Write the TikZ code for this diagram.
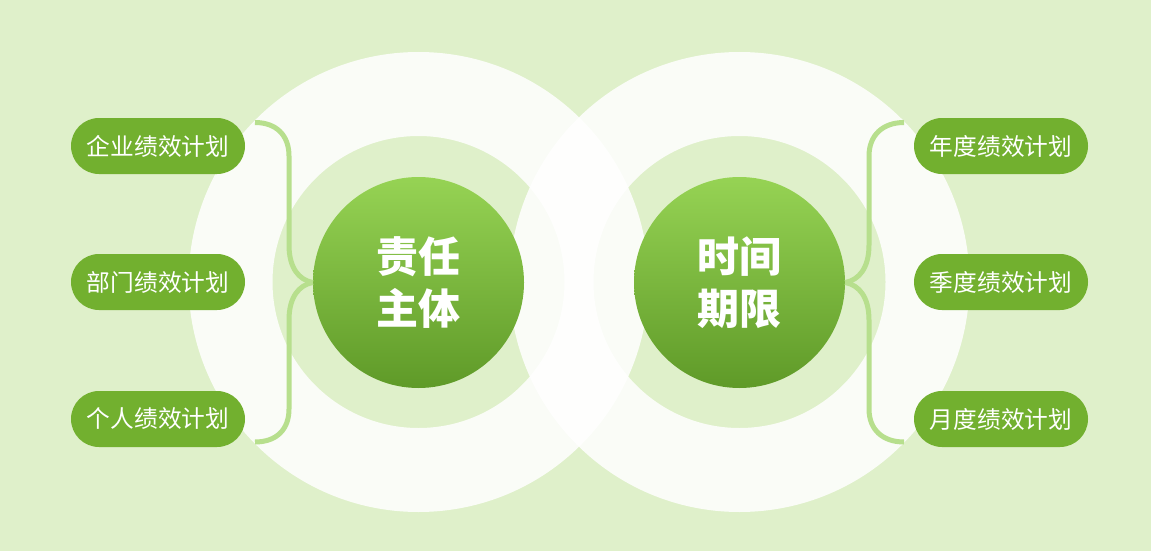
\documentclass[tikz,border=0pt]{standalone}
\usepackage{fontspec}
\newfontfamily\cjk{Noto Sans CJK SC}
\definecolor{bgc}{HTML}{DFF0CA}
\definecolor{pillc}{HTML}{72B02F}
\definecolor{brkc}{HTML}{B7DF8D}
\definecolor{gtop}{HTML}{96D354}
\definecolor{gbot}{HTML}{5F9A28}
\tikzset{
  pillbox/.style={rectangle, rounded corners=28pt, fill=pillc, minimum width=174pt,
    minimum height=56pt, inner sep=0pt, text=white, font=\cjk\fontsize{23.7}{25}\selectfont},
  hub/.style={circle, minimum size=211pt, inner sep=0pt, top color=gtop, bottom color=gbot,
    align=center, text=white, font=\cjk\bfseries\fontsize{42}{52}\selectfont},
  ring/.style={fill=white, fill opacity=0.85, even odd rule},
  brace/.style={draw=brkc, line width=5pt}
}
\begin{document}
\begin{tikzpicture}[x=1pt,y=-1pt]
\fill[bgc] (0,0) rectangle (1151,551);
\useasboundingbox (0,0) rectangle (1151,551);
% translucent annuli
\fill[ring] (418.5,282) circle[radius=230] (418.5,282) circle[radius=146];
\fill[ring] (739.5,282) circle[radius=230] (739.5,282) circle[radius=146];
% hubs
\node[hub] (c1) at (418.5,282.5) {责任\\主体};
\node[hub] (c2) at (739.5,282.5) {时间\\期限};
% pills
\node[pillbox] (l1) at (158,146) {企业绩效计划};
\node[pillbox] (l2) at (158,282) {部门绩效计划};
\node[pillbox] (l3) at (158,419) {个人绩效计划};
\node[pillbox] (r1) at (1001,146) {年度绩效计划};
\node[pillbox] (r2) at (1001,282) {季度绩效计划};
\node[pillbox] (r3) at (1001,419) {月度绩效计划};
% brace ends
\coordinate (lt) at (255,122.5);
\coordinate (lb) at (255,442);
\coordinate (rt) at (904,122.5);
\coordinate (rb) at (904,442);
% left brace
\draw[brace] (lt) .. controls (276,122.5) and (289,135) .. (289,156) -- (289,245)
  .. controls (289,268) and (299,280) .. (c1.west);
\draw[brace] (c1.west) .. controls (299,285) and (289,297) .. (289,320) -- (289,409)
  .. controls (289,430) and (276,442) .. (lb);
% right brace
\draw[brace] (rt) .. controls (883,122.5) and (869,135) .. (869,156) -- (869,245)
  .. controls (869,268) and (859,280) .. (c2.east);
\draw[brace] (c2.east) .. controls (859,285) and (869,297) .. (869,320) -- (869,409)
  .. controls (869,430) and (883,442) .. (rb);
\end{tikzpicture}
\end{document}
